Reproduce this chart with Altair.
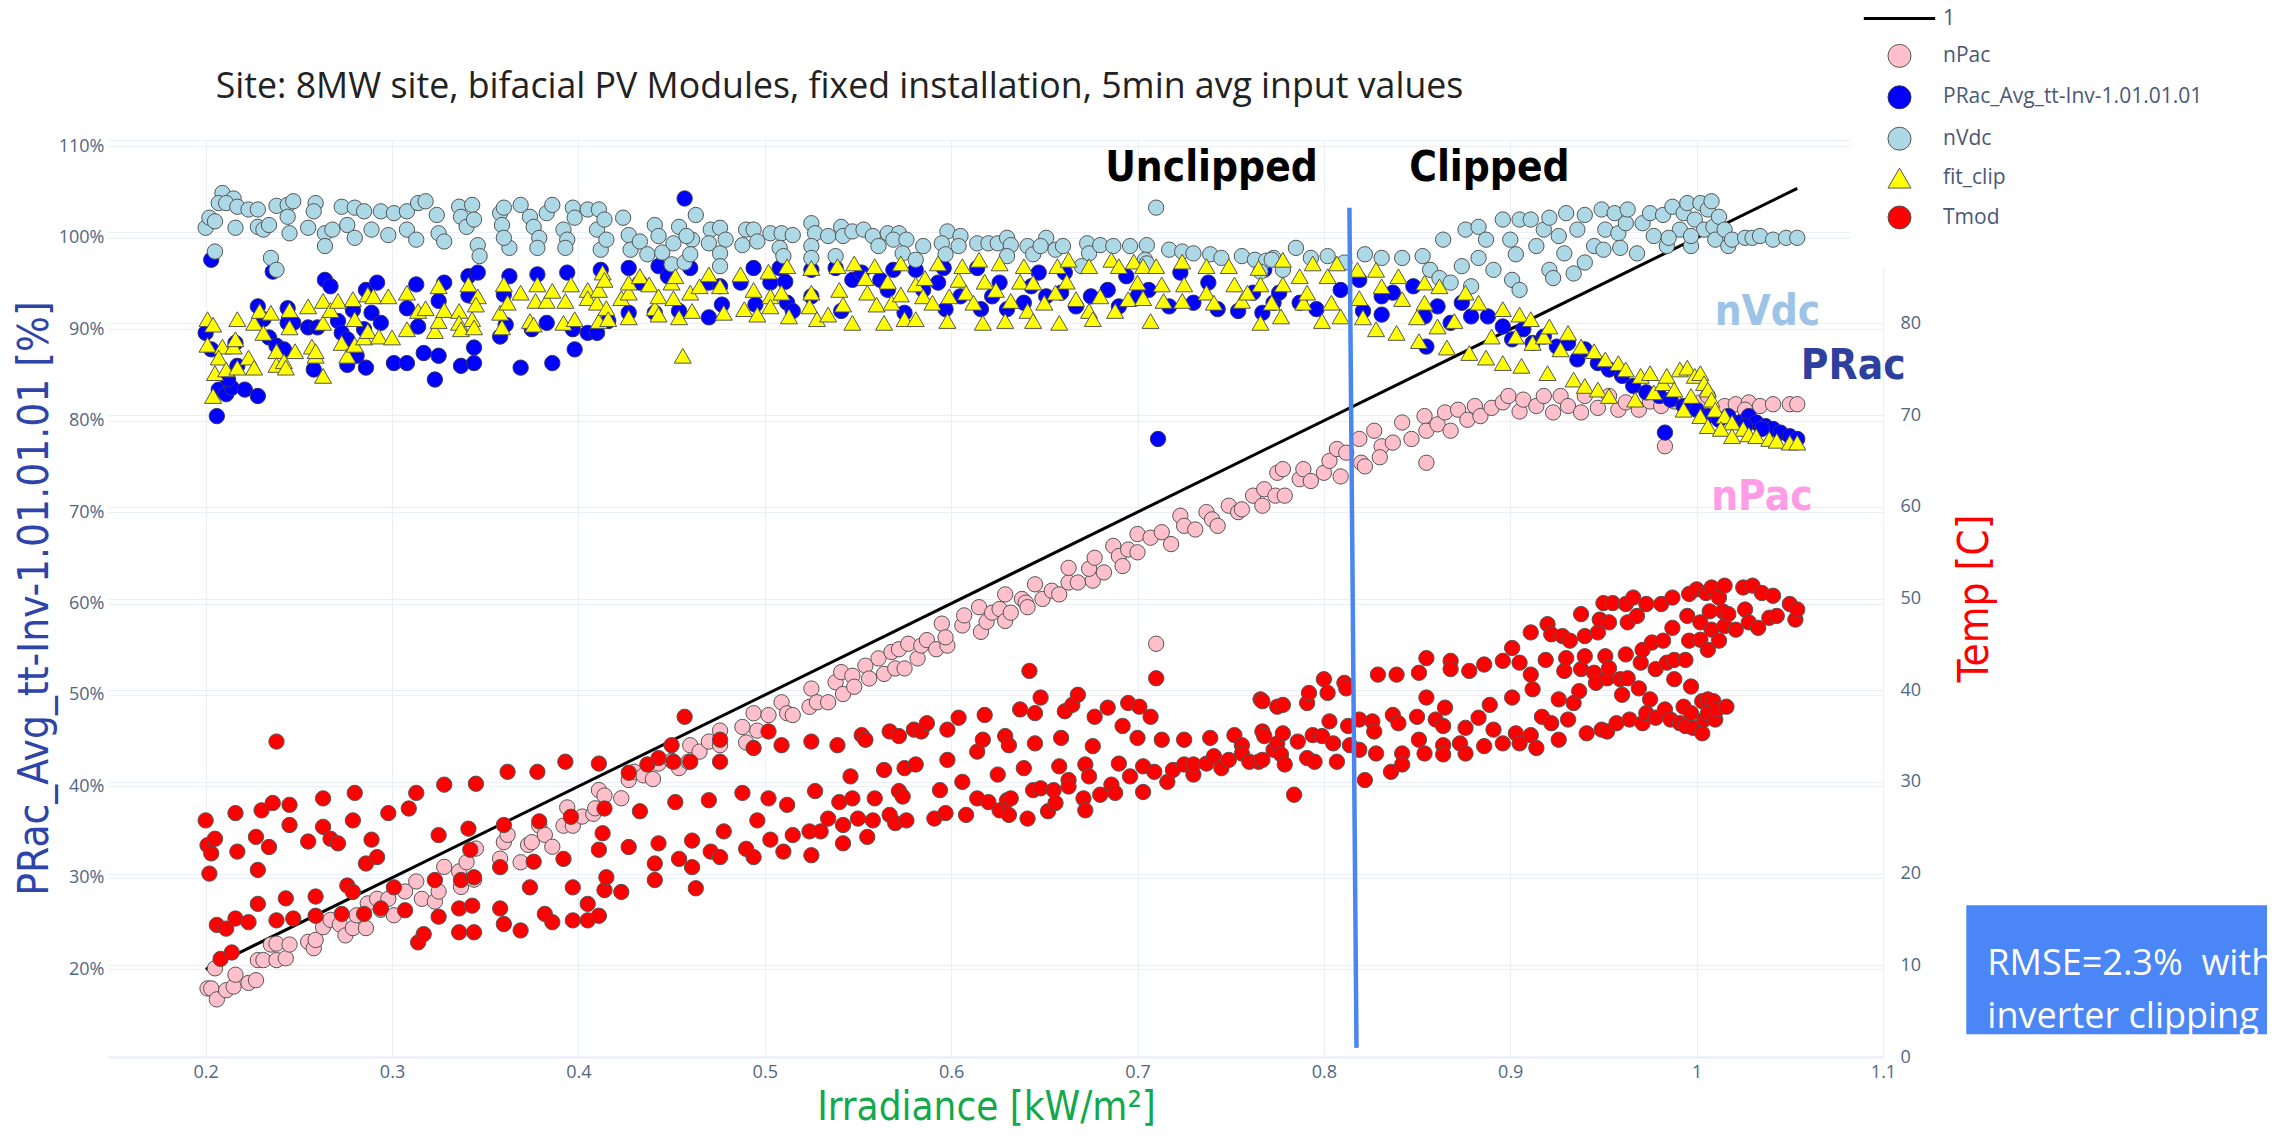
import altair as alt
import pandas as pd

# ---------------- data ----------------
SERIES = ["1", "nPac", "PRac_Avg_tt-Inv-1.01.01.01", "nVdc", "fit_clip", "Tmod"]
FILLS = ["#000000", "#FFC0CB", "#0000FF", "#ADD8E6", "#FFFF00", "#FF0000"]
STROKES = ["#000000", "#555555", "#333366", "#555555", "#555555", "#555555"]
SHAPES = ["M-3.1,0L3.1,0", "circle", "circle", "circle", "triangle-up", "circle"]
WIDTHS = [3, 1, 1, 1, 1, 1]

x_ticks = [0.2, 0.3, 0.4, 0.5, 0.6, 0.7, 0.8, 0.9, 1.0, 1.1]
left_ticks = [20, 30, 40, 50, 60, 70, 80, 90, 100, 110]
right_ticks = [0, 10, 20, 30, 40, 50, 60, 70, 80, 90, 100]

line_x = [0.2, 1.054]
line_y = [20.0, 105.4]

nvdc = [(0.200,101.1),(0.202,102.2),(0.205,101.8),(0.209,104.9),(0.207,103.8),(0.215,104.3),(0.211,103.8),(0.217,103.4),(0.216,101.1),(0.223,103.1),(0.228,103.1),(0.228,101.2),(0.231,100.9),(0.234,101.4),(0.205,98.5),(0.235,97.8),(0.238,96.5),(0.238,103.5),(0.244,103.6),(0.247,104.0),(0.244,102.3),(0.245,100.5),(0.255,101.1),(0.259,103.8),(0.258,102.9),(0.264,100.5),(0.264,99.1),(0.268,100.9),(0.273,103.4),(0.276,101.4),(0.280,103.3),(0.280,100.0),(0.285,102.9),(0.289,100.9),(0.294,102.9),(0.298,100.3),(0.301,102.7),(0.308,102.9),(0.308,100.9),(0.313,99.8),(0.314,103.8),(0.318,104.0),(0.324,102.5),(0.325,100.5),(0.328,99.6),(0.336,103.4),(0.337,102.3),(0.340,101.2),(0.343,103.6),(0.344,102.0),(0.346,99.2),(0.347,98.0),(0.358,102.7),(0.359,101.4),(0.360,103.3),(0.363,98.9),(0.360,100.0),(0.369,103.6),(0.374,102.3),(0.376,101.2),(0.379,100.0),(0.378,98.9),(0.383,102.7),(0.386,103.6),(0.392,100.9),(0.394,99.8),(0.393,98.9),(0.397,103.3),(0.398,102.2),(0.405,103.1),(0.411,103.1),(0.410,100.9),(0.414,102.0),(0.412,98.7),(0.415,99.8),(0.424,102.2),(0.427,100.3),(0.428,98.7),(0.433,99.6),(0.437,98.2),(0.441,101.4),(0.443,100.2),(0.445,98.4),(0.450,97.1),(0.451,99.4),(0.454,101.2),(0.457,97.3),(0.461,99.8),(0.460,98.2),
        (0.463,102.5),(0.458,100.2),(0.471,100.9),(0.470,99.4),(0.476,101.1),(0.479,99.8),(0.476,98.3),(0.476,96.9),(0.490,100.9),(0.494,100.9),(0.488,99.2),(0.496,99.6),(0.503,100.5),(0.509,100.5),(0.515,100.3),(0.508,98.9),(0.510,98.0),(0.525,101.6),(0.527,100.5),(0.525,99.1),(0.525,97.8),(0.534,100.2),(0.541,101.2),(0.542,100.2),(0.538,98.0),(0.547,100.7),(0.553,100.9),(0.558,100.2),(0.561,99.1),(0.566,100.5),(0.572,100.5),(0.569,99.8),(0.576,99.8),(0.574,98.3),(0.581,97.6),(0.585,99.1),(0.598,100.7),(0.595,99.4),(0.597,98.2),(0.605,100.2),(0.604,99.1),(0.614,99.4),(0.620,99.4),(0.625,99.4),(0.630,100.0),(0.632,99.2),(0.630,98.0),(0.641,99.1),(0.644,98.2),(0.651,100.0),(0.648,99.1),(0.656,98.7),(0.660,99.1),(0.673,99.4),(0.674,98.3),(0.680,99.2),(0.687,99.1),(0.696,99.1),(0.705,99.2),(0.710,103.3),(0.704,97.6),(0.717,98.7),(0.724,98.5),(0.730,98.3),(0.739,98.2),(0.745,97.8),(0.756,98.0),(0.763,97.6),(0.769,97.5),(0.773,97.8),(0.766,96.3),(0.670,96.9),(0.705,97.2),
        (0.772,97.6),(0.785,98.9),(0.778,96.5),(0.793,97.8),(0.802,98.0),(0.811,97.3),(0.822,98.2),(0.831,97.8),(0.842,97.8),(0.853,98.0),(0.857,96.5),(0.864,99.8),(0.862,95.6),(0.868,95.1),(0.876,100.9),(0.883,101.2),(0.887,99.8),(0.883,97.8),(0.874,96.9),(0.879,94.7),(0.891,96.5),(0.896,102.0),(0.905,102.0),(0.900,99.8),(0.903,98.2),(0.901,95.4),(0.905,94.3),(0.911,102.0),(0.918,100.9),(0.914,99.1),(0.921,102.2),(0.921,96.5),(0.923,95.6),(0.926,100.2),(0.930,102.7),(0.929,98.3),(0.934,96.1),(0.936,100.9),(0.940,102.5),(0.940,97.3),(0.945,99.1),(0.949,103.1),(0.951,100.9),(0.950,98.7),(0.956,102.7),(0.958,100.5),(0.959,98.9),(0.962,101.6),(0.963,103.1),(0.968,98.3),(0.971,101.6),(0.975,102.7),(0.977,100.2),(0.982,102.5),(0.984,99.1),(0.987,103.4),(0.991,100.9),(0.993,102.7),(0.995,103.8),(0.997,99.1),(0.999,102.0),(1.002,103.8),(1.004,100.9),(1.006,103.1),(1.008,104.0),(1.009,101.2),(1.010,99.8),(1.012,102.3),(1.015,100.9),(1.017,99.1),(1.019,99.8),(1.026,100.0),(1.030,100.0),(1.034,100.2),(1.041,99.8),(1.048,100.0),(1.054,100.0),(0.997,100.2),(0.985,100.0)]

prac = [(0.200,89.6),(0.203,97.6),(0.203,87.8),(0.206,80.5),(0.207,83.4),(0.211,82.9),(0.214,83.6),(0.221,83.4),(0.228,82.7),(0.212,84.5),(0.216,88.5),(0.217,86.0),(0.228,92.5),(0.231,91.1),(0.234,89.1),(0.238,88.2),(0.236,96.3),(0.242,87.8),(0.244,92.3),(0.244,90.7),(0.247,90.7),(0.255,90.2),(0.260,90.2),(0.258,85.6),(0.264,95.4),(0.267,94.7),(0.271,90.9),(0.273,89.6),(0.276,88.9),(0.276,86.1),(0.279,92.1),(0.281,87.1),(0.286,85.8),(0.285,90.0),(0.286,94.3),(0.289,91.8),(0.292,95.1),(0.294,90.7),(0.301,86.3),(0.308,86.3),(0.308,92.3),(0.313,94.9),(0.314,90.3),(0.317,87.4),(0.323,84.5),(0.325,87.1),(0.325,93.1),(0.328,95.1),(0.337,86.0),(0.341,95.8),(0.344,86.3),(0.344,88.0),(0.346,96.2),(0.341,93.7),(0.358,89.2),(0.361,90.5),(0.363,95.8),(0.360,93.8),(0.369,85.8),(0.375,90.0),(0.378,96.0),(0.383,90.7),(0.386,86.3),(0.394,96.2),(0.397,90.0),(0.398,87.8),(0.405,89.6),(0.410,89.6),(0.412,96.5),(0.416,90.9),(0.427,96.7),(0.427,91.8),(0.433,95.1),(0.441,91.8),(0.443,96.9),(0.448,95.8),(0.454,92.0),(0.460,96.7),(0.457,104.3),
        (0.470,95.1),(0.470,91.3),(0.476,94.7),(0.477,92.7),(0.487,95.1),(0.494,96.7),(0.495,92.7),(0.503,95.1),(0.508,96.7),(0.511,95.2),(0.512,92.9),(0.515,92.0),(0.525,96.5),(0.525,93.6),(0.538,96.7),(0.541,92.0),(0.547,95.4),(0.552,96.2),(0.562,95.4),(0.566,94.3),(0.569,96.5),(0.575,91.8),(0.581,96.5),(0.585,94.3),(0.593,95.1),(0.596,96.7),(0.597,92.2),(0.605,93.6),(0.614,96.7),(0.616,92.2),(0.622,93.6),(0.626,95.1),(0.630,92.2),(0.639,92.9),(0.643,94.7),(0.647,96.2),(0.651,93.6),(0.659,94.0),(0.661,96.2),(0.667,92.5),(0.675,93.6),(0.684,94.3),(0.690,92.5),(0.694,95.8),(0.700,93.6),(0.706,94.3),(0.711,78.0),(0.717,92.5),(0.723,96.2),(0.730,92.9),(0.738,95.1),(0.743,92.2),(0.754,92.0),(0.762,94.0),(0.767,91.8),(0.773,92.9),(0.768,96.5),
        (0.776,94.0),(0.787,92.9),(0.796,92.2),(0.809,94.3),(0.819,95.4),(0.821,92.0),(0.831,91.6),(0.831,93.6),(0.837,94.0),(0.848,94.7),(0.855,88.1),(0.854,91.4),(0.861,92.5),(0.868,90.7),(0.874,92.9),(0.879,91.4),(0.888,91.4),(0.896,90.3),(0.901,88.9),(0.907,90.0),(0.912,88.5),(0.918,89.2),(0.925,88.1),(0.931,88.5),(0.936,86.7),(0.940,87.8),(0.947,86.3),(0.953,85.6),(0.960,84.9),(0.966,83.8),(0.973,83.1),(0.980,82.7),(0.983,78.7),(0.986,82.3),(0.993,81.6),(1.000,81.2),(1.006,80.5),(1.012,80.1),(1.017,80.5),(1.023,79.8),(1.028,80.5),(1.032,79.8),(1.037,79.4),(1.041,79.1),(1.045,78.7),(1.050,78.3),(1.054,78.0),(1.035,79.1),(1.026,79.4)]

fitclip = [(0.201,91.1),(0.204,90.5),(0.201,88.3),(0.209,88.1),(0.207,86.9),(0.205,85.2),(0.211,85.6),(0.204,82.7),(0.215,88.1),(0.216,88.9),(0.217,91.1),(0.217,85.8),(0.223,86.9),(0.226,85.8),(0.226,90.7),(0.229,92.0),(0.231,89.6),(0.235,91.8),(0.238,87.6),(0.238,86.1),(0.242,86.5),(0.243,85.8),(0.245,92.1),(0.245,90.2),(0.248,87.6),(0.255,92.5),(0.257,88.1),(0.259,87.1),(0.259,87.6),(0.263,84.9),(0.263,93.1),(0.263,90.7),(0.267,92.1),(0.271,93.1),(0.273,88.5),(0.276,87.1),(0.280,91.1),(0.280,88.3),(0.279,93.3),(0.285,89.1),(0.287,93.8),(0.287,89.8),(0.290,93.6),(0.293,89.2),(0.298,93.6),(0.300,89.1),(0.308,90.0),(0.308,94.0),(0.314,92.0),(0.318,92.3),(0.323,89.8),(0.325,90.9),(0.325,94.7),(0.328,92.1),(0.336,92.0),(0.336,90.7),(0.337,90.0),(0.341,94.9),(0.343,91.1),(0.344,90.2),(0.346,93.6),(0.345,92.7),(0.358,91.8),(0.359,90.2),(0.360,94.9),(0.362,92.9),(0.369,94.0),(0.374,90.9),(0.376,90.5),(0.378,94.9),(0.377,93.1),(0.383,93.1),(0.386,94.2),(0.392,90.7),(0.393,93.1),(0.396,94.9),(0.398,91.1),(0.405,94.3),(0.405,93.4),(0.410,92.9),(0.411,94.3),(0.411,90.9),(0.413,96.2),(0.414,95.4),(0.415,92.3),(0.416,91.1),(0.423,93.4),(0.427,94.0),(0.427,95.1),(0.427,91.3),(0.433,95.8),(0.438,94.9),(0.441,92.3),(0.443,93.6),(0.443,91.6),(0.450,95.1),(0.451,93.4),(0.452,95.8),(0.454,91.3),(0.456,87.1),(0.460,94.0),(0.461,92.0),
           (0.465,94.7),(0.470,96.0),(0.476,94.7),(0.478,91.8),(0.487,96.0),(0.489,92.2),(0.494,94.3),(0.496,91.6),(0.502,96.3),(0.503,93.6),(0.503,92.5),(0.509,94.0),(0.512,96.9),(0.513,91.4),(0.525,96.7),(0.525,94.0),(0.524,92.5),(0.528,91.1),(0.534,91.6),(0.539,96.9),(0.540,94.3),(0.542,92.7),(0.547,90.7),(0.548,97.2),(0.554,95.6),(0.555,94.0),(0.559,96.9),(0.560,92.7),(0.564,90.7),(0.566,95.2),(0.568,92.9),(0.573,97.2),(0.573,93.8),(0.575,91.1),(0.581,91.1),(0.581,94.9),(0.585,93.6),(0.586,95.6),(0.590,92.9),(0.593,97.2),(0.598,90.9),(0.599,93.6),(0.604,95.4),(0.606,96.9),(0.608,94.0),(0.612,92.9),(0.615,97.6),(0.617,90.7),(0.618,95.2),(0.624,94.3),(0.626,97.2),(0.629,90.9),(0.632,93.1),(0.637,95.2),(0.639,96.9),(0.641,92.0),(0.644,95.1),(0.644,90.9),(0.650,92.9),(0.656,94.0),(0.657,96.9),(0.658,90.7),(0.662,95.2),(0.663,97.6),(0.667,93.3),(0.674,96.9),(0.674,92.0),(0.676,91.1),(0.680,93.6),(0.686,97.6),(0.688,92.0),(0.690,96.9),(0.695,93.3),(0.698,97.4),(0.700,95.1),(0.703,96.9),(0.703,93.4),(0.707,90.9),(0.710,96.9),(0.713,94.9),(0.714,93.1),(0.724,97.4),(0.724,93.1),(0.725,94.9),(0.737,96.9),(0.737,94.0),(0.741,92.9),(0.749,96.9),(0.752,94.9),(0.756,93.1),(0.759,94.0),(0.765,96.7),(0.766,94.9),(0.766,90.7),(0.772,92.9),
           (0.778,97.6),(0.778,94.9),(0.777,91.4),(0.787,95.8),(0.789,92.9),(0.794,97.2),(0.791,94.0),(0.799,90.9),(0.802,95.8),(0.807,97.2),(0.804,92.9),(0.809,91.4),(0.818,96.5),(0.819,93.4),(0.821,91.3),(0.828,96.5),(0.828,90.0),(0.831,94.7),(0.839,89.6),(0.840,95.8),(0.842,93.3),(0.850,91.3),(0.851,88.7),(0.854,95.1),(0.854,92.9),(0.861,90.3),(0.862,94.7),(0.866,88.0),(0.870,90.9),(0.876,94.0),(0.878,87.4),(0.883,92.9),(0.887,86.9),(0.890,89.2),(0.896,92.2),(0.896,86.3),(0.903,89.2),(0.905,91.6),(0.906,86.0),(0.911,91.1),(0.912,88.5),(0.918,89.2),(0.920,85.2),(0.921,90.3),(0.927,87.8),(0.931,89.6),(0.934,84.5),(0.938,88.1),(0.940,83.8),(0.945,87.6),(0.947,83.4),(0.951,86.7),(0.953,82.7),(0.958,86.3),(0.962,85.6),(0.967,82.3),(0.970,84.9),(0.975,85.2),(0.977,83.1),(0.982,84.1),(0.984,84.9),(0.988,83.4),(0.991,85.6),(0.995,85.8),(0.997,82.7),(0.999,84.9),(1.002,85.2),(1.004,84.1),(1.006,83.4),(1.008,82.3),(1.010,81.2),(1.015,80.5),(1.019,79.8),(1.025,79.1),(1.028,78.5),(1.032,78.3),(1.039,78.0),(1.043,77.8),(1.050,77.6),(1.054,77.6),(0.993,81.2),(1.002,80.5),(1.006,79.4),(1.013,79.1),(1.019,78.3)]

npac = [(0.201,17.9),(0.203,17.9),(0.205,20.1),(0.206,16.7),(0.211,17.7),(0.215,18.1),(0.216,19.4),(0.223,18.5),(0.227,18.8),(0.228,21.0),(0.231,21.0),(0.235,22.7),(0.238,22.8),(0.238,21.0),(0.243,21.2),(0.245,22.7),(0.255,23.0),(0.258,22.3),(0.259,23.2),(0.263,24.6),(0.267,25.4),(0.272,24.9),(0.275,23.7),(0.279,24.5),(0.281,25.9),(0.286,24.5),(0.287,27.2),(0.292,27.7),(0.294,26.5),(0.298,27.7),(0.301,25.9),(0.307,28.5),(0.313,29.6),(0.316,27.7),(0.323,27.4),(0.325,28.5),(0.328,31.2),(0.336,30.7),(0.337,29.0),(0.340,31.7),(0.344,29.8),(0.345,33.2),(0.358,32.1),(0.360,33.9),(0.362,34.7),(0.369,31.7),(0.373,33.6),(0.375,33.9),(0.379,35.7),(0.382,34.7),(0.386,33.4),(0.392,35.7),(0.394,37.7),(0.397,35.7),(0.402,36.7),(0.408,37.0),(0.411,39.6),(0.414,39.0),(0.409,37.6),(0.423,38.7),(0.427,40.7),(0.430,41.6),(0.435,41.2),(0.440,40.8),(0.443,42.5),(0.450,42.8),(0.454,42.0),(0.460,44.5),(0.459,42.7),
        (0.465,43.8),(0.470,44.9),(0.476,46.1),(0.476,44.5),(0.488,46.5),(0.490,44.8),(0.494,48.0),(0.496,46.1),(0.502,47.8),(0.509,49.2),(0.512,48.0),(0.515,47.8),(0.525,50.7),(0.524,48.7),(0.528,49.2),(0.534,49.2),(0.538,51.4),(0.541,52.5),(0.542,50.1),(0.547,52.1),(0.548,50.9),(0.554,53.2),(0.556,51.8),(0.561,54.0),(0.564,52.3),(0.568,54.7),(0.570,52.9),(0.572,55.0),(0.575,52.9),(0.577,55.6),(0.582,54.0),(0.584,55.4),(0.587,56.0),(0.592,55.0),(0.595,57.8),(0.598,55.4),(0.597,56.3),(0.606,57.6),(0.607,58.7),(0.616,56.9),(0.615,59.6),(0.619,58.0),(0.622,59.0),(0.626,59.4),(0.629,58.1),(0.629,61.0),(0.632,59.0),(0.638,60.5),(0.640,60.1),(0.641,59.6),(0.645,62.1),(0.649,60.5),(0.654,61.4),(0.658,61.0),(0.663,62.3),(0.668,62.3),(0.676,62.5),(0.710,55.6),
        (0.663,63.9),(0.674,63.8),(0.677,65.0),(0.682,63.4),(0.687,66.3),(0.690,65.2),(0.692,64.1),(0.695,65.9),(0.700,67.6),(0.700,65.6),(0.707,67.2),(0.713,67.8),(0.718,66.5),(0.723,69.6),(0.725,68.5),(0.731,68.1),(0.737,70.0),(0.740,69.2),(0.743,68.5),(0.749,70.7),(0.754,70.0),(0.756,70.3),(0.762,71.8),(0.767,70.7),(0.768,72.5),(0.774,71.8),(0.775,74.3),
        (0.778,74.7),(0.779,71.8),(0.787,73.6),(0.789,74.7),(0.793,73.4),(0.800,74.3),(0.803,75.6),(0.807,76.9),(0.809,73.9),(0.812,76.5),(0.819,78.0),(0.820,75.4),(0.822,75.0),(0.827,78.9),(0.831,77.2),(0.830,76.0),(0.837,77.6),(0.842,79.8),(0.847,78.0),(0.854,80.5),(0.855,75.4),(0.855,78.9),(0.861,79.6),(0.865,80.9),(0.868,78.9),(0.872,81.2),(0.877,80.1),(0.881,81.6),(0.884,80.5),(0.890,81.4),(0.896,82.0),(0.899,82.7),(0.905,81.0),(0.907,82.3),(0.914,81.6),(0.918,82.7),(0.923,80.9),(0.927,82.7),(0.931,81.6),(0.938,80.9),(0.940,82.7),(0.947,81.4),(0.953,82.7),(0.958,81.2),(0.962,82.0),(0.969,81.2),(0.975,82.1),(0.981,81.6),(0.983,77.2),(0.988,82.1),(0.995,81.4),(1.002,82.0),(1.008,81.0),(1.015,81.6),(1.021,81.8),(1.028,82.0),(1.034,81.6),(1.041,81.8),(1.050,81.8),(1.054,81.8),(1.026,81.2),(1.006,82.7)]

tmod = [(0.200,25.8),(0.201,23.1),(0.203,22.2),(0.205,23.8),(0.202,20.0),(0.206,14.4),(0.208,10.7),(0.211,14.0),(0.214,11.4),(0.216,15.1),(0.216,26.6),(0.217,22.4),(0.223,14.7),(0.227,24.0),(0.228,20.4),(0.228,16.7),(0.230,26.9),(0.234,22.9),(0.236,27.7),(0.238,34.4),(0.238,14.9),(0.243,17.3),(0.245,27.5),(0.245,25.3),(0.247,15.1),(0.255,23.5),(0.259,17.5),(0.259,15.4),(0.263,28.2),(0.263,25.1),(0.267,23.8),(0.271,23.3),(0.273,15.6),(0.276,18.7),(0.279,18.0),(0.280,28.8),(0.279,25.8),(0.285,15.6),(0.286,21.1),(0.289,23.7),(0.292,21.8),(0.294,16.2),(0.298,26.6),(0.301,18.5),(0.307,16.0),(0.309,27.1),(0.313,28.8),(0.314,12.5),(0.317,13.4),(0.323,19.3),(0.325,15.3),(0.325,24.2),(0.328,29.7),(0.336,16.2),(0.336,13.6),(0.337,19.3),(0.341,24.9),(0.342,22.6),(0.343,16.5),(0.344,13.6),(0.344,19.6),(0.345,29.8),(0.358,16.2),(0.358,20.7),(0.360,25.3),(0.360,14.5),(0.362,31.1),(0.369,13.8),(0.374,18.5),(0.376,21.3),(0.378,31.1),(0.379,25.7),(0.382,15.6),(0.386,14.7),(0.392,21.6),(0.393,32.2),(0.396,26.2),(0.397,18.5),(0.397,14.9),(0.405,16.7),(0.405,14.9),(0.411,32.0),(0.411,22.6),(0.413,24.4),(0.414,27.1),(0.411,15.4),(0.414,18.2),(0.415,19.6),(0.423,18.0),(0.427,31.0),(0.427,22.9),(0.433,26.8),(0.437,31.9),(0.441,21.1),(0.441,19.3),(0.443,23.3),(0.443,32.6),(0.450,34.0),(0.451,32.2),(0.452,27.8),(0.454,21.6),(0.457,37.1),(0.460,32.2),(0.461,23.6),(0.461,20.7),(0.463,18.4),
        (0.470,28.0),(0.471,22.4),(0.476,34.6),(0.476,32.2),(0.476,21.8),(0.478,24.6),(0.488,28.8),(0.490,22.7),(0.494,33.7),(0.494,21.8),(0.496,25.8),(0.502,35.5),(0.502,28.2),(0.503,23.7),(0.509,34.0),(0.510,22.4),(0.512,27.5),(0.515,24.2),(0.524,24.6),(0.525,34.4),(0.525,22.0),(0.527,29.0),(0.530,24.6),(0.534,26.0),(0.539,34.0),(0.540,27.8),(0.542,25.3),(0.542,23.3),(0.546,30.6),(0.547,28.2),(0.550,26.0),(0.552,35.1),(0.554,34.6),(0.555,24.0),(0.558,25.8),(0.559,28.2),(0.564,31.3),(0.567,35.5),(0.567,26.4),(0.570,25.5),(0.572,35.0),(0.572,29.0),(0.575,31.5),(0.574,28.4),(0.576,25.8),(0.581,31.9),(0.580,35.7),(0.584,35.5),(0.587,36.4),(0.591,26.0),(0.594,29.1),(0.597,26.6),(0.598,32.4),(0.598,35.7),(0.604,37.0),(0.606,30.0),(0.608,26.4),(0.614,28.2),(0.614,33.3),(0.617,34.6),(0.618,37.3),(0.620,27.8),(0.625,30.8),(0.626,26.9),(0.629,35.0),(0.630,28.0),(0.631,34.0),(0.631,26.4),(0.632,28.2),(0.637,37.9),(0.639,31.5),(0.641,26.0),(0.642,42.1),(0.644,29.1),(0.645,34.2),(0.645,37.5),(0.648,39.2),(0.648,29.3),(0.652,26.8),(0.655,29.1),(0.656,27.7),(0.658,31.7),(0.659,34.8),(0.661,37.7),(0.663,30.2),(0.663,29.5),(0.665,38.4),(0.668,39.5),(0.671,28.2),(0.672,26.9),(0.672,31.9),(0.674,30.6),(0.676,33.9),(0.677,37.1),(0.680,28.6),(0.684,38.1),(0.686,29.7),(0.688,28.8),(0.690,32.0),(0.692,36.1),(0.695,38.6),(0.696,30.6),(0.700,34.8),(0.701,38.2),(0.703,31.7),(0.703,28.9),(0.707,37.1),(0.709,31.1),(0.710,41.3),(0.713,34.6),(0.716,30.0),(0.719,31.3),(0.725,34.6),(0.725,31.9),(0.730,30.8),(0.730,31.9),(0.737,32.0),(0.739,34.8),(0.741,32.8),(0.745,31.5),(0.749,32.4),(0.752,35.1),(0.756,34.0),(0.756,33.1),(0.760,32.2),(0.765,32.2),(0.766,39.0),(0.767,35.5),(0.768,35.0),(0.773,33.5),(0.775,38.2),
        (0.767,38.8),(0.767,32.4),(0.775,34.2),(0.777,33.0),(0.778,38.4),(0.778,35.3),(0.779,31.9),(0.784,28.6),(0.786,34.4),(0.791,38.6),(0.792,39.7),(0.791,32.6),(0.794,35.1),(0.795,32.2),(0.799,35.0),(0.800,41.2),(0.802,39.7),(0.803,36.6),(0.805,34.2),(0.807,32.2),(0.811,40.8),(0.812,40.2),(0.813,36.1),(0.814,34.0),(0.819,36.8),(0.819,33.5),(0.822,30.2),(0.826,36.6),(0.827,35.5),(0.828,33.1),(0.829,41.7),(0.836,31.1),(0.837,37.3),(0.839,41.7),(0.840,36.4),(0.842,33.1),(0.842,31.9),(0.850,37.1),(0.851,41.9),(0.851,34.6),(0.854,33.1),(0.855,43.5),(0.855,39.2),(0.860,36.8),(0.864,36.1),(0.864,34.0),(0.864,33.0),(0.865,38.1),(0.868,43.2),(0.868,42.3),(0.873,34.2),(0.876,33.1),(0.876,35.9),(0.878,42.1),(0.883,37.0),(0.886,33.9),(0.886,42.8),(0.889,38.4),(0.891,35.7),(0.896,43.2),(0.896,34.2),(0.901,44.6),(0.901,39.2),(0.903,35.3),(0.905,43.0),(0.905,34.2),(0.911,35.1),(0.911,41.7),(0.911,46.3),(0.912,40.1),(0.914,33.7),(0.917,37.1),(0.919,43.3),(0.920,47.2),(0.922,46.1),(0.922,36.4),(0.926,39.0),(0.926,34.6),(0.928,45.9),(0.929,42.1),(0.930,43.5),(0.931,36.8),(0.932,45.4),(0.934,38.6),(0.937,39.9),(0.938,48.3),(0.938,42.3),(0.940,43.7),(0.940,45.9),(0.941,35.3),(0.945,41.9),(0.946,40.8),(0.947,46.3),(0.948,47.7),(0.949,35.7),(0.950,49.5),(0.951,43.7),(0.952,41.3),(0.952,35.5),(0.953,47.4),(0.953,42.4),(0.955,49.5),(0.957,36.4),(0.959,41.2),(0.960,39.5),(0.962,49.4),(0.962,43.9),(0.963,47.4),(0.963,41.3),(0.964,36.8),(0.966,50.1),(0.968,48.1),(0.969,40.2),(0.970,43.0),(0.971,44.4),(0.971,36.4),(0.973,49.4),(0.973,37.5),(0.975,39.0),(0.976,45.2),(0.978,42.3),(0.978,37.0),(0.981,49.4),(0.982,45.4),(0.983,37.9),(0.984,43.0),(0.986,36.8),(0.987,50.1),(0.987,46.8),(0.988,41.2),(0.988,43.3),(0.991,36.4),(0.993,38.2),(0.994,43.3),(0.994,36.1),(0.995,48.1),(0.996,50.5),(0.996,45.4),(0.997,40.4),(0.997,37.5),(0.998,35.9),(1.000,51.0),(1.002,47.4),(1.002,45.5),(1.003,35.3),(1.003,38.8),(1.004,36.8),(1.005,50.6),(1.006,44.4),(1.006,39.0),(1.006,37.5),(1.007,48.6),(1.008,46.6),(1.008,51.2),(1.009,38.8),(1.010,36.8),(1.011,37.9),(1.012,50.1),(1.012,45.4),(1.014,48.6),(1.015,51.4),(1.015,47.0),(1.016,38.2),(1.017,48.3),(1.021,46.6),(1.025,51.2),(1.026,48.8),(1.028,47.4),(1.030,51.4),(1.033,46.8),(1.035,50.6),(1.039,47.9),(1.041,50.3),(1.043,48.1),(1.050,49.4),(1.053,47.7),(1.054,48.8)]

# annotation values
vline = {"x": [0.8137], "y": [103.3], "x2": [0.8175], "y2": [11.4]}
region_text = ["Unclipped", "Clipped"]
region_x = [0.7397, 0.8888]
region_y = [106.2, 106.2]
series_text = ["nVdc", "PRac", "nPac"]
series_x = [1.038, 1.084, 1.035]
series_y = [90.5, 84.6, 70.2]
series_col = ["#9DC3E6", "#2E3F9E", "#FF9CE6"]
box = {"x": [1.1447], "x2": [1.34], "y": [27.0], "y2": [12.9]}
box_text = ["RMSE=2.3%\u00a0 with", "inverter clipping"]
box_text_x = [1.156, 1.156]
box_text_y = [19.35, 13.6]
site_text = ["Site: 8MW site, bifacial PV Modules, fixed installation, 5min avg input values"]
site_x = [0.2054]
site_y = [115.3]

# ---------------- styling ----------------
COND = "'DejaVu Sans Condensed', 'Liberation Sans Narrow', Roboto, sans-serif"
GRID = "#EBF0F8"
TICKC = "#506784"

x_scale = alt.Scale(domain=[0.1476, 1.1], nice=False, zero=False)
yl_scale = alt.Scale(domain=[10.4, 110.7], nice=False, zero=False)
yr_scale = alt.Scale(domain=[0, 100], nice=False, zero=False)

fill_scale = alt.Scale(domain=SERIES, range=FILLS)
stroke_scale = alt.Scale(domain=SERIES, range=STROKES)
shape_scale = alt.Scale(domain=SERIES, range=SHAPES)
sw_scale = alt.Scale(type="ordinal", domain=SERIES, range=WIDTHS)

legend = alt.Legend(
    title=None, orient="none", legendX=1742, legendY=-171,
    fillColor="white", padding=36, symbolSize=530, columns=1,
    labelFont="Open Sans", labelFontSize=21, labelColor="#4a5876",
    labelOffset=30, rowPadding=12.4, labelLimit=400,
)

x_axis = alt.Axis(
    values=x_ticks, format="~g", grid=True, gridColor=GRID, gridWidth=1,
    domainColor=GRID, domainWidth=2.5, ticks=False, labelPadding=6,
    labelFont="Open Sans", labelFontSize=18, labelColor=TICKC, labelFlush=False,
    labelOverlap=False,
    title="Irradiance [kW/m²]", titleFont=COND, titleFontSize=40,
    titleFontWeight="normal", titleColor="#12A84B", titleX=878, titleY=62,
    titleAlign="center", titleBaseline="alphabetic",
)
yl_axis = alt.Axis(
    values=left_ticks, labelExpr="datum.value + '%'", grid=True, gridColor=GRID,
    domain=False, ticks=False, labelPadding=4, labelFont="Open Sans",
    labelFontSize=18, labelColor=TICKC, labelFlush=False, labelOverlap=False,
    title="PRac_Avg_tt-Inv-1.01.01.01 [%]", titleFont=COND, titleFontSize=42,
    titleFontWeight="normal", titleColor="#2E44A8", titleAngle=270,
    titleX=-74, titleY=458, titleAlign="center", titleBaseline="middle",
)
yr_axis = alt.Axis(
    orient="right", values=right_ticks, format="d", grid=True, gridColor=GRID,
    domain=False, ticks=False, labelPadding=17, labelFont="Open Sans",
    labelFontSize=18, labelColor=TICKC, labelFlush=False, labelOverlap=False,
    title="Temp [C]", titleFont=COND, titleFontSize=42, titleFontWeight="normal",
    titleColor="#FF0000", titleAngle=270, titleX=91, titleY=458,
    titleAlign="center", titleBaseline="middle",
)

X = alt.X("x:Q", scale=x_scale, axis=x_axis)
YL = alt.Y("y:Q", scale=yl_scale, axis=yl_axis)


def legend_channels(mark_has_fill=True):
    enc = {
        "stroke": alt.Stroke("series:N", scale=stroke_scale, legend=legend),
        "strokeWidth": alt.StrokeWidth("series:N", scale=sw_scale, legend=legend),
    }
    if mark_has_fill:
        enc["fill"] = alt.Fill("series:N", scale=fill_scale, legend=legend)
        enc["shape"] = alt.Shape("series:N", scale=shape_scale, legend=legend)
    return enc


def points(pairs, name, size, y):
    df = pd.DataFrame(pairs, columns=["x", "y"])
    df["series"] = name
    return alt.Chart(df).mark_point(filled=True, opacity=1, size=size).encode(
        x=X, y=y, **legend_channels(True)
    )


line_df = pd.DataFrame({"x": line_x, "y": line_y, "series": "1"})
line_layer = alt.Chart(line_df).mark_line().encode(x=X, y=YL, **legend_channels(False))

left = alt.layer(
    line_layer,
    points(npac, "nPac", 235, YL),
    points(prac, "PRac_Avg_tt-Inv-1.01.01.01", 235, YL),
    points(nvdc, "nVdc", 235, YL),
    points(fitclip, "fit_clip", 290, YL),
)

right = points(tmod, "Tmod", 235, alt.Y("y:Q", scale=yr_scale, axis=yr_axis))

# overlay annotations (left-axis data coordinates, no axis)
YO = alt.Y("y:Q", scale=yl_scale, axis=None)
vline_layer = alt.Chart(pd.DataFrame(vline)).mark_rule(color="#4A86F0", strokeWidth=4.5).encode(
    x=X, y=YO, x2="x2:Q", y2="y2:Q"
)
region_layer = alt.Chart(pd.DataFrame({"x": region_x, "y": region_y, "t": region_text})).mark_text(
    font=COND, fontWeight="bold", fontSize=42, color="#000000", align="center", baseline="alphabetic"
).encode(x=X, y=YO, text="t:N")
series_layer = alt.Chart(pd.DataFrame({"x": series_x, "y": series_y, "t": series_text, "c": series_col})).mark_text(
    font=COND, fontWeight="bold", fontSize=42, align="center", baseline="alphabetic"
).encode(x=X, y=YO, text="t:N", color=alt.Color("c:N", scale=None))
box_layer = alt.Chart(pd.DataFrame(box)).mark_rect(color="#4A86F5").encode(
    x=X, y=YO, x2="x2:Q", y2="y2:Q"
)
box_text_layer = alt.Chart(pd.DataFrame({"x": box_text_x, "y": box_text_y, "t": box_text})).mark_text(
    font="Open Sans", fontSize=36, color="#FFFFFF", align="left", baseline="alphabetic"
).encode(x=X, y=YO, text="t:N")
site_layer = alt.Chart(pd.DataFrame({"x": site_x, "y": site_y, "t": site_text})).mark_text(
    font="Open Sans", fontSize=35.7, color="#222222", align="left", baseline="alphabetic"
).encode(x=X, y=YO, text="t:N")

overlay = alt.layer(vline_layer, region_layer, series_layer, box_layer, box_text_layer, site_layer)

chart = (
    alt.layer(left, right, overlay)
    .resolve_scale(y="independent")
    .properties(
        width=1775,
        height=917,
        padding={"left": 100, "top": 132, "right": 384, "bottom": 70},
        autosize=alt.AutoSizeParams(type="none"),
        background="white",
    )
    .configure_view(stroke=None)
)

chart.save("out.html", embed_options={"renderer": "svg", "actions": False})
